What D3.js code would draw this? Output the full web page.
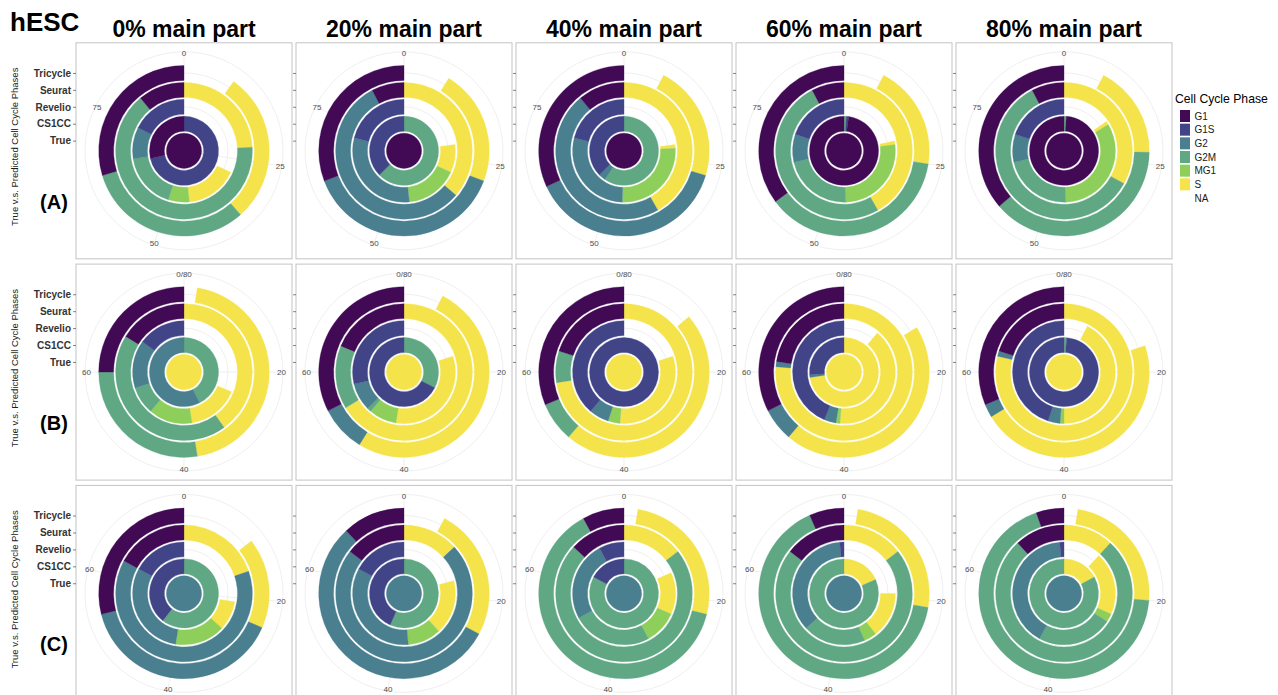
<!DOCTYPE html>
<html>
<head>
<meta charset="utf-8">
<script src="https://cdn.jsdelivr.net/npm/d3@7"></script>
<style>
  html, body { margin: 0; padding: 0; background: #ffffff; }
  svg { display: block; }
</style>
</head>
<body>
<script>
// Cell-cycle phase categories (legend order) and their fills
const phases = ["G1", "G1S", "G2", "G2M", "MG1", "S", "NA"];
const phaseColors = ["#420a54", "#414587", "#497f8f", "#5fa883", "#8ecf5c", "#f5e34b", null];

// Rings, from the centre outwards
const methods = ["True", "CS1CC", "Revelio", "Seurat", "Tricycle"];

// Column and row annotations
const panelTitles = ["0% main part", "20% main part", "40% main part", "60% main part", "80% main part"];
const rowTags = ["(A)", "(B)", "(C)"];
const cellTotals = [91, 80, 76];
const thetaBreaks = [[0, 25, 50, 75], [0, 20, 40, 60], [0, 20, 40, 60]];
const thetaBreakLabels = [["0", "25", "50", "75"], ["0/80", "20", "40", "60"], ["0", "20", "40", "60"]];

// Cell counts per ring: [G1, G1S, G2, G2M, MG1, S, NA]
// Row (A): G1 cells
const countsA = [
  [[91,0,0,0,0,0,0], [26,65,0,0,0,0,0], [0,16,9,16,6,15,29], [10,0,0,59,0,22,0], [27,0,0,29,0,26,9]],
  [[91,0,0,0,0,0,0], [0,34,0,57,0,0,0], [0,19,28,0,15,8,21], [7,0,51,0,0,33,0],  [28,0,35,0,0,20,8]],
  [[91,0,0,0,0,0,0], [0,34,3,54,0,0,0], [0,19,26,0,24,1,21], [10,0,43,0,0,38,0], [29,0,35,0,0,20,7]],
  [[91,0,0,0,0,0,0], [89,1,0,1,0,0,0],  [0,18,8,20,24,1,20], [7,0,0,46,0,38,0],  [32,0,0,34,0,18,7]],
  [[91,0,0,0,0,0,0], [90,0,0,1,0,0,0],  [0,18,8,20,30,1,14], [7,0,0,54,0,30,0],  [33,0,0,35,0,16,7]]
];
// Row (B): S cells
const countsB = [
  [[0,0,0,0,0,80,0], [0,0,46,34,0,0,0], [0,12,12,7,11,13,25], [13,0,0,35,0,32,0], [20,0,0,22,0,36,2]],
  [[0,0,0,0,0,80,0], [0,54,0,26,0,0,0], [0,23,7,1,7,26,16],   [15,0,0,12,0,53,0], [26,0,7,0,0,41,6]],
  [[0,0,0,0,0,80,0], [0,80,0,0,0,0,0],  [0,31,5,0,3,25,16],   [16,0,0,6,0,58,0],  [25,0,0,6,0,38,11]],
  [[0,0,0,0,0,80,0], [0,21,1,0,0,58,0], [0,35,3,0,1,32,9],    [18,0,1,0,0,61,0],  [26,0,5,0,0,36,13]],
  [[0,0,0,0,0,80,0], [0,79,0,1,0,0,0],  [0,36,3,0,1,34,6],    [16,0,1,0,0,63,0],  [25,0,2,0,0,37,16]]
];
// Row (C): G2/M cells
const countsC = [
  [[0,0,76,0,0,0,0], [0,30,0,46,0,0,0], [0,13,23,0,12,7,21], [13,0,48,0,0,15,0], [22,0,30,0,0,13,11]],
  [[0,0,76,0,0,0,0], [0,33,0,43,0,0,0], [0,13,26,0,8,13,16], [11,0,55,0,0,10,0], [9,0,42,0,0,19,6]],
  [[0,0,76,0,0,0,0], [0,13,0,63,0,0,0], [0,6,19,19,8,10,14],  [10,0,0,55,0,11,0], [6,0,0,48,0,20,2]],
  [[0,0,76,0,0,0,0], [0,0,0,62,0,14,0], [0,1,27,15,3,11,19],  [11,0,0,54,0,11,0], [5,0,0,50,0,19,2]],
  [[0,0,76,0,0,0,0], [0,0,0,63,0,13,0], [0,1,31,18,2,15,9],   [9,0,0,58,0,9,0],   [4,0,0,52,0,18,2]]
];
const rowCounts = [countsA, countsB, countsC];

// ---- layout ----
const W = 1278, H = 695;
const panelSize = 216;
const colX0 = 184, colStep = 220;     // panel centres
const rowY0 = 150.8, rowStep = 221.3;
const R = 88;                          // radius of the radial range
const labelR = 97.5;                   // theta labels
const outerGridR = R * 1.125;
const barWidth = 0.88;

const svg = d3.select("body").append("svg")
  .attr("width", W).attr("height", H)
  .style("font-family", "'Liberation Sans', Arial, Helvetica, sans-serif");

svg.append("rect").attr("width", W).attr("height", H).attr("fill", "#ffffff");

// stack order: NA starts at 0, G1 ends at the total
const stackKeys = ["NA", "S", "MG1", "G2M", "G2", "G1S", "G1"];
const stack = d3.stack()
  .keys(stackKeys)
  .value((d, key) => d.values[phases.indexOf(key)]);

// radial scale; the innermost ring is filled right to the centre
const rScale = d3.scaleLinear().domain([0.4, 5.6]).range([0, R]);
const ringInner = pos => pos === 1 ? 0 : rScale(pos - barWidth / 2);
const ringOuter = pos => rScale(pos + barWidth / 2);
const colorOf = d3.scaleOrdinal().domain(phases).range(phaseColors);

rowCounts.forEach((rowData, ri) => {
  const cy = rowY0 + rowStep * ri;
  const total = cellTotals[ri];
  const theta = d3.scaleLinear().domain([0, total]).range([0, 2 * Math.PI]);

  rowData.forEach((panelData, ci) => {
    const cx = colX0 + colStep * ci;
    const g = svg.append("g").attr("transform", `translate(${cx},${cy})`);

    // panel background and border
    g.append("rect")
      .attr("x", -panelSize / 2).attr("y", -panelSize / 2)
      .attr("width", panelSize).attr("height", panelSize)
      .attr("fill", "#ffffff").attr("stroke", "#c4c4c4").attr("stroke-width", 1);

    // grid: circles at each ring position and the outer circle
    const gridR = methods.map((m, i) => rScale(i + 1)).concat([outerGridR]);
    g.selectAll("circle.grid").data(gridR).join("circle")
      .attr("class", "grid").attr("r", d => d)
      .attr("fill", "none").attr("stroke", "#ebebeb").attr("stroke-width", 0.8);

    // grid: spokes at the theta breaks
    g.selectAll("line.spoke").data(thetaBreaks[ri]).join("line")
      .attr("class", "spoke")
      .attr("x1", 0).attr("y1", 0)
      .attr("x2", d => outerGridR * Math.sin(theta(d)))
      .attr("y2", d => -outerGridR * Math.cos(theta(d)))
      .attr("stroke", "#ebebeb").attr("stroke-width", 0.8);

    // stacked ring bars
    const rings = panelData.map((values, i) => ({ method: methods[i], pos: i + 1, values }));
    const series = stack(rings);
    const arc = d3.arc()
      .innerRadius(d => ringInner(d.data.pos))
      .outerRadius(d => ringOuter(d.data.pos))
      .startAngle(d => theta(d[0]))
      .endAngle(d => theta(d[1]));

    series.forEach(s => {
      const fill = colorOf(s.key);
      if (!fill) return; // unassigned cells stay blank
      g.append("g").selectAll("path")
        .data(s.filter(d => d[1] > d[0]))
        .join("path")
        .attr("d", arc)
        .attr("fill", fill)
        .attr("stroke", fill).attr("stroke-width", 0.3);
    });

    // theta labels
    g.selectAll("text.theta").data(thetaBreaks[ri]).join("text")
      .attr("class", "theta")
      .attr("x", d => labelR * Math.sin(theta(d)))
      .attr("y", d => -labelR * Math.cos(theta(d)))
      .attr("dy", "0.35em")
      .attr("text-anchor", "middle")
      .attr("font-size", 8)
      .attr("fill", "#4d4d4d")
      .text((d, i) => thetaBreakLabels[ri][i]);

    // radial axis on the left edge of the panel
    const yAxisScale = d3.scaleLinear().domain([0.4, 5.6]).range([0, -R]);
    const axis = d3.axisLeft(yAxisScale)
      .tickValues(methods.map((m, i) => i + 1))
      .tickSize(3)
      .tickPadding(2)
      .tickFormat(v => ci === 0 ? methods[v - 1] : "");
    const ag = g.append("g")
      .attr("transform", `translate(${-panelSize / 2},0)`)
      .call(axis);
    ag.select(".domain").remove();
    ag.selectAll(".tick line").attr("stroke", "#333333").attr("stroke-width", 0.6);
    ag.selectAll(".tick text")
      .attr("font-size", 10).attr("font-weight", "bold")
      .attr("fill", "#333333")
      .style("font-family", "'Liberation Sans', Arial, Helvetica, sans-serif");
  });

  // row tag and rotated axis title
  svg.append("text")
    .attr("x", 54).attr("y", cy + 58)
    .attr("text-anchor", "middle")
    .attr("font-size", 20).attr("font-weight", "bold")
    .attr("fill", "#000000")
    .text(rowTags[ri]);

  svg.append("text")
    .attr("transform", `translate(15,${cy - 4}) rotate(-90)`)
    .attr("text-anchor", "middle")
    .attr("dy", "0.35em")
    .attr("font-size", 9.5)
    .attr("fill", "#1a1a1a")
    .text("True v.s. Predicted Cell Cycle Phases");
});

// figure title and column titles
svg.append("text")
  .attr("x", 10).attr("y", 31)
  .attr("font-size", 26).attr("font-weight", "bold")
  .attr("fill", "#000000")
  .text("hESC");

svg.selectAll("text.coltitle").data(panelTitles).join("text")
  .attr("class", "coltitle")
  .attr("x", (d, i) => colX0 + colStep * i)
  .attr("y", 37)
  .attr("text-anchor", "middle")
  .attr("font-size", 23).attr("font-weight", "bold")
  .attr("fill", "#000000")
  .text(d => d);

// legend
const lg = svg.append("g").attr("transform", "translate(1175,0)");
lg.append("text")
  .attr("x", 0).attr("y", 102.5)
  .attr("font-size", 12.2)
  .attr("fill", "#000000")
  .text("Cell Cycle Phase");

const legendY = d3.scalePoint().domain(phases).range([116, 198]);
const items = lg.selectAll("g.item").data(phases).join("g")
  .attr("class", "item")
  .attr("transform", d => `translate(0,${legendY(d)})`);
items.filter(d => colorOf(d))
  .append("rect")
  .attr("x", 5).attr("y", -6)
  .attr("width", 10).attr("height", 12)
  .attr("fill", d => colorOf(d));
items.append("text")
  .attr("x", 19.5).attr("dy", "0.35em")
  .attr("font-size", 10)
  .attr("fill", "#1a1a1a")
  .text(d => d);
</script>
</body>
</html>
